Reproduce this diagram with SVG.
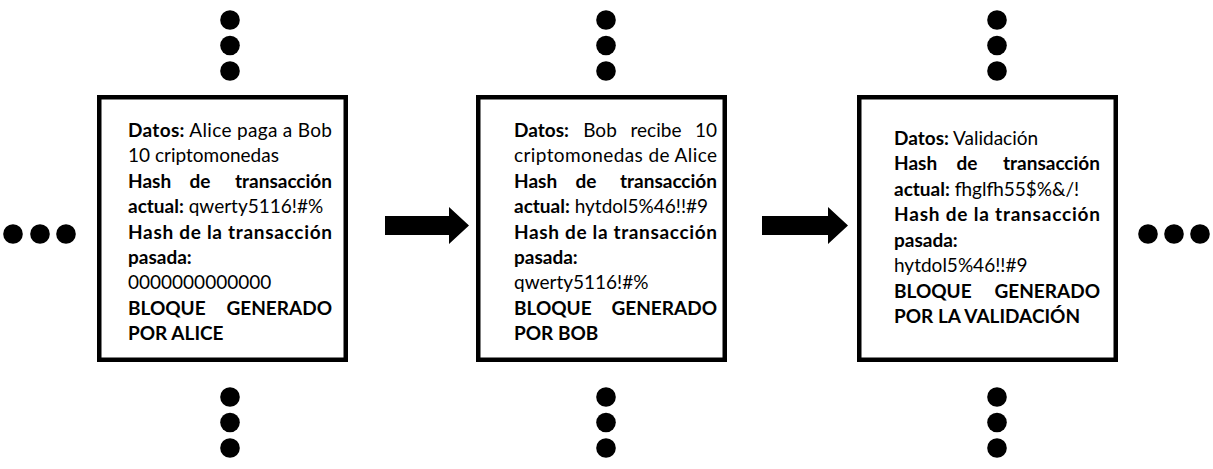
<svg xmlns="http://www.w3.org/2000/svg" width="1213" height="469" viewBox="0 0 1213 469">
<style>
.box{fill:#fff;stroke:#000;stroke-width:4.5}
.t{font-family:Lato,"Liberation Sans",sans-serif;font-size:19px;fill:#000}
.b{font-weight:bold}
.e{text-anchor:end}
.m{text-anchor:middle}
.dot{fill:#000}
.arr{fill:#000}
</style>
<defs>
<circle id="d" r="9.8" class="dot"/>
</defs>
<rect width="1213" height="469" fill="#fff"/>

<g id="dots">
<g id="dots-top-1"><use href="#d" x="230" y="20"/><use href="#d" x="230" y="45.5"/><use href="#d" x="230" y="71"/></g>
<g id="dots-top-2"><use href="#d" x="606" y="20"/><use href="#d" x="606" y="45.5"/><use href="#d" x="606" y="71"/></g>
<g id="dots-top-3"><use href="#d" x="997" y="20"/><use href="#d" x="997" y="45.5"/><use href="#d" x="997" y="71"/></g>
<g id="dots-bottom-1"><use href="#d" x="230" y="397"/><use href="#d" x="230" y="422.5"/><use href="#d" x="230" y="448"/></g>
<g id="dots-bottom-2"><use href="#d" x="606" y="397"/><use href="#d" x="606" y="422.5"/><use href="#d" x="606" y="448"/></g>
<g id="dots-bottom-3"><use href="#d" x="997" y="397"/><use href="#d" x="997" y="422.5"/><use href="#d" x="997" y="448"/></g>
<g id="dots-left"><use href="#d" x="13" y="234"/><use href="#d" x="40" y="234"/><use href="#d" x="66" y="234"/></g>
<g id="dots-right"><use href="#d" x="1148" y="234"/><use href="#d" x="1174" y="234"/><use href="#d" x="1200" y="234"/></g>
</g>

<g id="connectors">
<polygon class="arr" points="385,216 449,216 449,207 469,225.5 449,244 449,235 385,235"/>
<polygon class="arr" points="762,216 828,216 828,207 848,225.5 828,244 828,235 762,235"/>
</g>

<g id="block-alice">
<rect class="box" x="99.25" y="97.25" width="246.5" height="262.5"/>
<text class="t" x="128" y="136.7" textLength="204" lengthAdjust="spacing"><tspan class="b">Datos:</tspan> Alice paga a Bob</text>
<text class="t" x="128" y="162">10 criptomonedas</text>
<text class="t b" x="128" y="187.5">Hash</text>
<text class="t b m" x="200" y="187.5">de</text>
<text class="t b e" x="332" y="187.5">transacción</text>
<text class="t" x="128" y="213"><tspan class="b">actual:</tspan> qwerty5116!#%</text>
<text class="t b" x="128" y="238.5" textLength="204" lengthAdjust="spacing">Hash de la transacción</text>
<text class="t b" x="128" y="264">pasada:</text>
<text class="t" x="128" y="289">0000000000000</text>
<text class="t b" x="128" y="314.5">BLOQUE</text>
<text class="t b e" x="332" y="314.5">GENERADO</text>
<text class="t b" x="128" y="340">POR ALICE</text>
</g>

<g id="block-bob">
<rect class="box" x="478.25" y="97.25" width="246.5" height="262.5"/>
<text class="t b" x="514" y="136.7">Datos:</text>
<text class="t m" x="600" y="136.7">Bob</text>
<text class="t m" x="656" y="136.7">recibe</text>
<text class="t e" x="717" y="136.7">10</text>
<text class="t" x="514" y="162" textLength="203" lengthAdjust="spacing">criptomonedas de Alice</text>
<text class="t b" x="514" y="187.5">Hash</text>
<text class="t b m" x="586" y="187.5">de</text>
<text class="t b e" x="717" y="187.5">transacción</text>
<text class="t" x="514" y="213"><tspan class="b">actual:</tspan> hytdol5%46!!#9</text>
<text class="t b" x="514" y="238.5" textLength="203" lengthAdjust="spacing">Hash de la transacción</text>
<text class="t b" x="514" y="264">pasada:</text>
<text class="t" x="514" y="289">qwerty5116!#%</text>
<text class="t b" x="514" y="314.5">BLOQUE</text>
<text class="t b e" x="717" y="314.5">GENERADO</text>
<text class="t b" x="514" y="340">POR BOB</text>
</g>

<g id="block-validacion">
<rect class="box" x="859.25" y="97.25" width="256.5" height="262.5"/>
<text class="t" x="894" y="144.5"><tspan class="b">Datos:</tspan> Validación</text>
<text class="t b" x="894" y="170">Hash</text>
<text class="t b m" x="967" y="170">de</text>
<text class="t b e" x="1100" y="170">transacción</text>
<text class="t" x="894" y="195.5"><tspan class="b">actual:</tspan> fhglfh55$%&amp;/!</text>
<text class="t b" x="894" y="221" textLength="206" lengthAdjust="spacing">Hash de la transacción</text>
<text class="t b" x="894" y="246.5">pasada:</text>
<text class="t" x="894" y="272">hytdol5%46!!#9</text>
<text class="t b" x="894" y="297.5">BLOQUE</text>
<text class="t b e" x="1100" y="297.5">GENERADO</text>
<text class="t b" x="894" y="323">POR LA VALIDACIÓN</text>
</g>
</svg>
